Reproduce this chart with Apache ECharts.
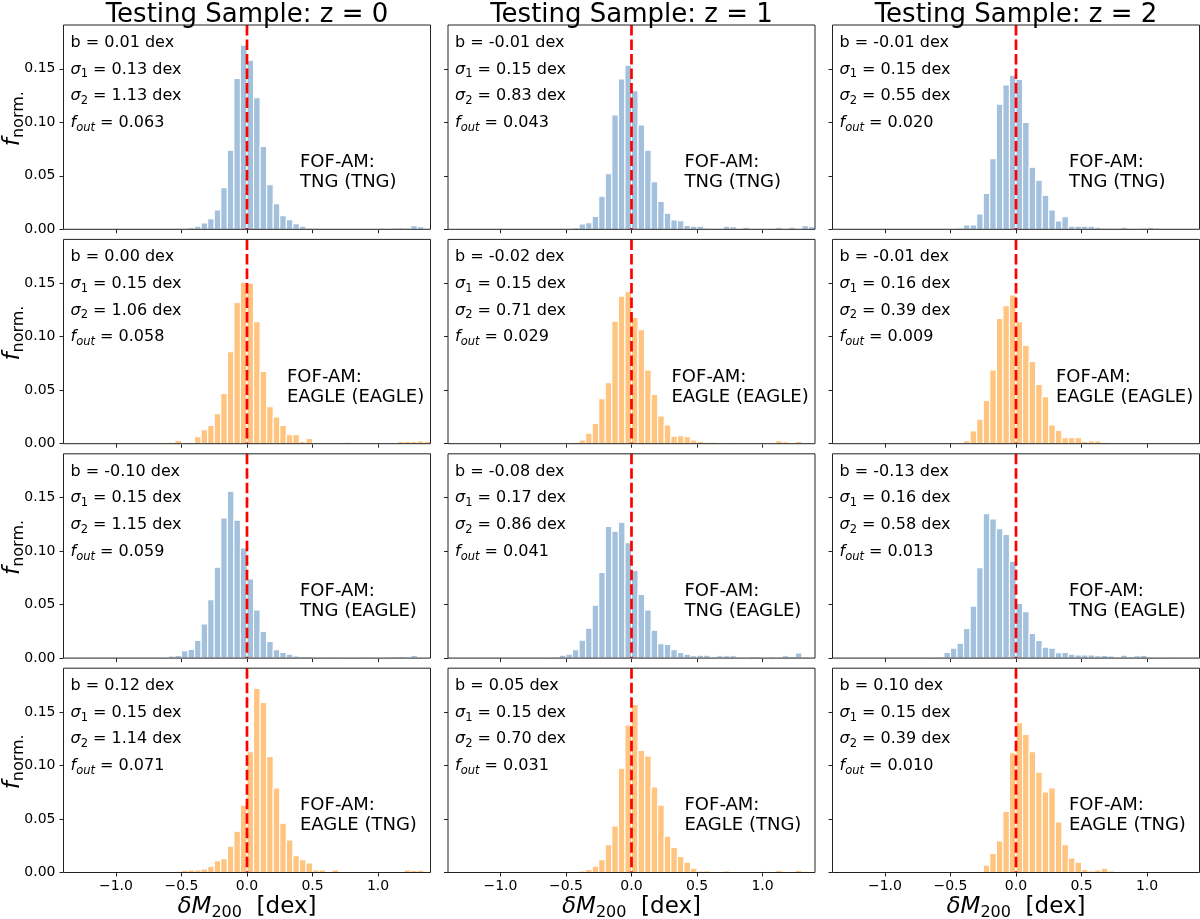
<!DOCTYPE html>
<html>
<head>
<meta charset="utf-8">
<title>Testing Sample histograms</title>
<script src="https://cdn.jsdelivr.net/npm/echarts@6/dist/echarts.min.js"></script>
<style>
html, body { margin: 0; padding: 0; background: #fff; }
#main { width: 1200px; height: 919px; }
</style>
</head>
<body>
<div id="main"></div>
<script>
// histogram bins of dM200 [dex], 0.05 wide
var binEdges = [-1.40,-1.35,-1.30,-1.25,-1.20,-1.15,-1.10,-1.05,-1.00,-0.95,-0.90,-0.85,-0.80,-0.75,-0.70,-0.65,
  -0.60,-0.55,-0.50,-0.45,-0.40,-0.35,-0.30,-0.25,-0.20,-0.15,-0.10,-0.05,0.00,0.05,0.10,0.15,0.20,0.25,0.30,0.35,
  0.40,0.45,0.50,0.55,0.60,0.65,0.70,0.75,0.80,0.85,0.90,0.95,1.00,1.05,1.10,1.15,1.20,1.25,1.30,1.35,1.40];

var xTicks = [-1.0, -0.5, 0.0, 0.5, 1.0];
var yTicks = [0, 0.05, 0.10, 0.15];
var yMax = 0.191;
var refLineX = 0; // dashed reference line

// normalised counts per bin (56 bins)
// row 1: FOF-AM TNG (TNG)
var tngTng_z0 = [0,0,0,0,0,0,0,0, 0,0,0,0,0,0,0.0003,0.0003,
  0.0003,0.0006,0.001,0.0015,0.003,0.006,0.010,0.018, 0.039,0.074,0.141,0.172,0.158,0.123,0.0775,0.0417,
  0.024,0.0128,0.009,0.0053,0.003,0.0012,0.0006,0.0006, 0.0003,0.0003,0.0003,0.0009,0.0003,0.0006,0.0006,0.0009,
  0.0012,0.0009,0.0012,0.0016,0.0012,0.0034,0.0025,0.0003];
var tngTng_z1 = [0,0,0,0,0,0,0,0, 0,0,0,0,0,0,0,0,
  0,0.0003,0.001,0.0016,0.005,0.0062,0.012,0.031, 0.052,0.107,0.1405,0.1535,0.1296,0.0975,0.074,0.0445,
  0.026,0.015,0.0087,0.008,0.0037,0.003,0.0028,0.0012, 0.001,0.001,0.003,0.0025,0.001,0.002,0.0003,0.0003,
  0.0003,0.001,0.002,0.001,0.002,0.0003,0.0034,0.0025];
var tngTng_z2 = [0,0,0,0,0,0,0,0, 0,0,0,0,0,0,0,0,
  0,0,0.0003,0.0012,0.004,0.004,0.0143,0.0336, 0.066,0.117,0.135,0.144,0.140,0.100,0.058,0.0458,
  0.0318,0.018,0.0078,0.0118,0.003,0.003,0.003,0.003, 0.002,0.0012,0.0012,0.0012,0.002,0.001,0.0006,0.0012,
  0.0019,0.0012,0.0006,0.0003,0,0,0.001,0];
// row 2: FOF-AM EAGLE (EAGLE)
var eagleEagle_z0 = [0,0,0,0,0,0,0,0, 0,0,0,0,0.0005,0.0005,0.001,0.001,
  0.0015,0.003,0.0012,0.0012,0.0065,0.013,0.017,0.028, 0.047,0.086,0.132,0.151,0.150,0.114,0.0675,0.0345,
  0.025,0.017,0.0084,0.0084,0.002,0.005,0.001,0.0003, 0,0,0,0.0015,0.0006,0.0003,0.0003,0,
  0.0006,0.0006,0.001,0.002,0.002,0.002,0.0025,0.002];
var eagleEagle_z1 = [0,0,0,0,0,0,0,0, 0,0,0,0,0,0,0,0,
  0.0003,0.001,0.001,0.0015,0.0034,0.0097,0.019,0.042, 0.057,0.1146,0.138,0.142,0.118,0.1065,0.069,0.046,
  0.026,0.0175,0.0069,0.0075,0.0065,0.0034,0.002,0.0015, 0.0015,0.001,0.001,0.0012,0.0012,0.0006,0.0003,0.0003,
  0.0003,0.0003,0.0028,0.0019,0.0006,0.002,0.001,0.0006];
var eagleEagle_z2 = [0,0,0,0,0,0,0,0, 0,0,0,0,0,0,0,0,
  0,0,0,0.0003,0.0028,0.012,0.023,0.0405, 0.069,0.117,0.129,0.139,0.114,0.092,0.077,0.0555,
  0.044,0.0175,0.0125,0.0056,0.0056,0.0056,0.0022,0.0025, 0.0025,0.0015,0.0009,0.0009,0.0006,0.0006,0.0006,0.0003,
  0,0.0003,0,0.0003,0,0.0003,0,0.0003];
// row 3: FOF-AM TNG (EAGLE)
var tngEagle_z0 = [0,0,0,0,0,0,0,0, 0,0,0,0,0,0,0,0.0005,
  0.0019,0.0025,0.007,0.008,0.0165,0.032,0.0545,0.085, 0.131,0.156,0.129,0.103,0.074,0.045,0.025,0.0156,
  0.0078,0.0053,0.0037,0.002,0.0015,0.0015,0.001,0.0006, 0.0003,0.0003,0,0.0006,0.0006,0.0003,0,0.0003,
  0.0006,0.0012,0.0012,0.0015,0.0012,0.0025,0.0006,0.0003];
var tngEagle_z1 = [0,0,0,0,0,0,0,0, 0,0,0,0,0,0,0,0.0006,
  0.0012,0.0028,0.0037,0.0078,0.0168,0.028,0.0495,0.080, 0.123,0.1187,0.127,0.108,0.082,0.0595,0.045,0.026,
  0.0134,0.0128,0.0078,0.0053,0.0037,0.0022,0.0028,0.0028, 0.0012,0.0022,0.0022,0.0022,0.0003,0.0003,0.0015,0.0012,
  0.0009,0.0012,0.0003,0.0022,0.0015,0.0047,0.0012,0.0009];
var tngEagle_z2 = [0,0,0,0,0,0,0,0, 0,0,0,0,0,0,0,0.0006,
  0.0012,0.0053,0.0093,0.014,0.0277,0.0486,0.0844,0.135, 0.130,0.121,0.1156,0.0907,0.051,0.0433,0.023,0.0165,
  0.0103,0.0093,0.005,0.0053,0.0037,0.003,0.003,0.003, 0.0022,0.0025,0.0019,0.0009,0.0028,0.0012,0.0022,0.0025,
  0.0003,0.0006,0.0009,0.0003,0.0003,0.0006,0,0];
// row 4: FOF-AM EAGLE (TNG)
var eagleTng_z0 = [0,0,0,0,0,0,0,0, 0,0,0,0,0,0,0,0,
  0.0003,0.0012,0.0022,0.0025,0.0025,0.0034,0.0056,0.011, 0.013,0.0246,0.0386,0.063,0.113,0.172,0.159,0.1086,
  0.079,0.046,0.0305,0.0156,0.012,0.009,0.0025,0.0025, 0.0003,0.0025,0.0003,0.0003,0,0.0003,0,0.0003,
  0,0.0003,0,0.0003,0.0025,0.0019,0.0022,0.0012];
var eagleTng_z1 = [0,0,0,0,0,0,0,0, 0,0,0,0,0,0,0,0,
  0,0,0,0.0006,0.0015,0.0028,0.006,0.012, 0.026,0.0436,0.0975,0.138,0.157,0.114,0.109,0.080,
  0.063,0.034,0.0234,0.015,0.0097,0.004,0.0015,0.0015, 0.0009,0.0006,0.0015,0.0003,0.0009,0.0009,0.0006,0.0003,
  0.0006,0.0009,0.0019,0.0006,0.0009,0.0019,0.0012,0.0006];
var eagleTng_z2 = [0,0,0,0,0,0,0,0, 0,0,0,0,0,0,0,0,
  0,0,0,0,0,0,0.0003,0.0069, 0.0178,0.0296,0.057,0.112,0.140,0.129,0.113,0.0938,
  0.0754,0.079,0.0473,0.026,0.0137,0.0097,0.0028,0.0015, 0.0025,0.004,0.0015,0.0003,0,0,0.0003,0,
  0,0.0003,0,0.0003,0.0003,0,0.0003,0.0003];

var hists = [
  [tngTng_z0, tngTng_z1, tngTng_z2],
  [eagleEagle_z0, eagleEagle_z1, eagleEagle_z2],
  [tngEagle_z0, tngEagle_z1, tngEagle_z2],
  [eagleTng_z0, eagleTng_z1, eagleTng_z2]
];

var redshifts = ['0', '1', '2'];
var rowNames = ['TNG (TNG)', 'EAGLE (EAGLE)', 'TNG (EAGLE)', 'EAGLE (TNG)'];
var biasB  = [['0.01','-0.01','-0.01'], ['0.00','-0.02','-0.01'], ['-0.10','-0.08','-0.13'], ['0.12','0.05','0.10']];
var sigma1 = [['0.13','0.15','0.15'], ['0.15','0.15','0.16'], ['0.15','0.17','0.16'], ['0.15','0.15','0.15']];
var sigma2 = [['1.13','0.83','0.55'], ['1.06','0.71','0.39'], ['1.15','0.86','0.58'], ['1.14','0.70','0.39']];
var fOut   = [['0.063','0.043','0.020'], ['0.058','0.029','0.009'], ['0.059','0.041','0.013'], ['0.071','0.031','0.010']];

var FONT = 'DejaVu Sans';
var BLUE = '#a3c0dc';
var ORANGE = '#ffc47f';
var rowColors = [BLUE, ORANGE, BLUE, ORANGE];

// layout (px)
var colLeft = [63.5, 448, 832.5], colWidth = 367;
var rowTop = [25, 239.4, 453.8, 668.2], rowHeight = 204.3;
var tagOffset = [236.5, 223.5, 236.5, 236.5];

function fmtX(v) {
  return (v < 0 ? '\u2212' : '') + Math.abs(v).toFixed(1);
}

function txt(x, y, text, size, opts) {
  var st = {
    text: text, fontFamily: FONT, fontSize: size, fill: '#000',
    align: 'left', textAlign: 'left', verticalAlign: 'middle', textVerticalAlign: 'middle'
  };
  var el = { type: 'text', x: x, y: y, silent: true, z: 20, style: st };
  if (opts) {
    if (opts.align) { st.align = opts.align; st.textAlign = opts.align; }
    if (opts.rich) st.rich = opts.rich;
    if (opts.rotation) el.rotation = opts.rotation;
  }
  return el;
}

function richSet(size, subSize, lh) {
  return {
    n: { fontFamily: FONT, fontSize: size, lineHeight: lh, fill: '#000' },
    i: { fontFamily: FONT, fontSize: size, lineHeight: lh, fontStyle: 'italic', fill: '#000' },
    s: { fontFamily: FONT, fontSize: subSize, verticalAlign: 'bottom', fill: '#000' },
    si: { fontFamily: FONT, fontSize: subSize, fontStyle: 'italic', verticalAlign: 'bottom', fill: '#000' }
  };
}

var grids = [], xAxes = [], yAxes = [], series = [], graphics = [];
var statRich = richSet(16, 11.5, 22);

hists.forEach(function (row, r) {
  row.forEach(function (vals, c) {
    var idx = r * 3 + c;
    var color = rowColors[r];
    grids.push({
      left: colLeft[c], top: rowTop[r], width: colWidth, height: rowHeight,
      show: true, borderColor: '#222', borderWidth: 1, backgroundColor: 'transparent', z: 10
    });
    xAxes.push({
      type: 'value', gridIndex: idx, min: -1.4, max: 1.4, position: 'bottom',
      axisLine: { show: false, onZero: false },
      splitLine: { show: false },
      axisTick: { show: true, length: 4, lineStyle: { color: '#222', width: 1 }, customValues: xTicks },
      axisLabel: {
        show: r === 3, customValues: xTicks, formatter: fmtX,
        fontFamily: FONT, fontSize: 14, color: '#000', margin: 7
      }
    });
    yAxes.push({
      type: 'value', gridIndex: idx, min: 0, max: yMax, position: 'left',
      axisLine: { show: false, onZero: false },
      splitLine: { show: false },
      axisTick: { show: true, length: 4, lineStyle: { color: '#222', width: 1 }, customValues: yTicks },
      axisLabel: {
        show: c === 0, customValues: yTicks, formatter: function (v) { return v.toFixed(2); },
        fontFamily: FONT, fontSize: 14, color: '#000', margin: 8
      }
    });
    series.push({
      type: 'custom', xAxisIndex: idx, yAxisIndex: idx, z: 2, silent: true, animation: false,
      encode: { x: [0, 1], y: 2 },
      data: vals.map(function (v, i) { return [binEdges[i], binEdges[i + 1], v]; }),
      renderItem: function (params, api) {
        var h = api.value(2);
        if (!(h > 0)) return null;
        var tl = api.coord([api.value(0), h]);
        var br = api.coord([api.value(1), 0]);
        return {
          type: 'rect',
          shape: { x: tl[0], y: tl[1], width: br[0] - tl[0], height: br[1] - tl[1] },
          style: { fill: color, stroke: '#ffffff', lineWidth: 1.1 }
        };
      }
    });
    // dashed red line at dM200 = 0, drawn top to bottom
    series.push({
      type: 'custom', xAxisIndex: idx, yAxisIndex: idx, z: 4, silent: true, animation: false,
      encode: { x: 0, y: 1 },
      data: [[refLineX, yMax]],
      renderItem: function (params, api) {
        var a = api.coord([api.value(0), api.value(1)]);
        var b = api.coord([api.value(0), 0]);
        return {
          type: 'line',
          shape: { x1: a[0], y1: a[1], x2: b[0], y2: b[1] },
          style: { stroke: '#ff0000', lineWidth: 2.7, lineDash: [10.5, 4], fill: null }
        };
      }
    });

    // statistics text
    var x0 = colLeft[c] + 7, y0 = rowTop[r] + 17.7, dy = 26.7;
    graphics.push(txt(x0, y0, '{n|b = ' + biasB[r][c] + ' dex}', 16, { rich: statRich }));
    graphics.push(txt(x0, y0 + dy, '{i|\u03c3}{s|1}{n| = ' + sigma1[r][c] + ' dex}', 16, { rich: statRich }));
    graphics.push(txt(x0, y0 + 2 * dy, '{i|\u03c3}{s|2}{n| = ' + sigma2[r][c] + ' dex}', 16, { rich: statRich }));
    graphics.push(txt(x0, y0 + 3 * dy, '{i|f}{si|out}{n| = ' + fOut[r][c] + '}', 16, { rich: statRich }));

    // sample tag
    graphics.push(txt(colLeft[c] + tagOffset[r], rowTop[r] + 137.5, 'FOF-AM:', 18));
    graphics.push(txt(colLeft[c] + tagOffset[r], rowTop[r] + 157.5, rowNames[r], 18));
  });
});

// column titles and x labels
var xlabRich = richSet(23, 16, 28);
redshifts.forEach(function (z, c) {
  var cx = colLeft[c] + colWidth / 2;
  graphics.push(txt(cx, 15.5, 'Testing Sample: z = ' + z, 26, { align: 'center' }));
  graphics.push(txt(cx, 907, '{i|\u03b4M}{s|200}{n|  [dex]}', 23, { align: 'center', rich: xlabRich }));
});

// y labels
var ylabRich = richSet(23, 16, 28);
rowTop.forEach(function (t) {
  graphics.push(txt(13, t + rowHeight / 2 - 8.5, '{i|f}{s|norm.}', 23,
    { align: 'center', rich: ylabRich, rotation: Math.PI / 2 }));
});

var chart = echarts.init(document.getElementById('main'));
chart.setOption({
  animation: false,
  backgroundColor: '#ffffff',
  grid: grids,
  xAxis: xAxes,
  yAxis: yAxes,
  series: series,
  graphic: graphics
});
</script>
</body>
</html>
